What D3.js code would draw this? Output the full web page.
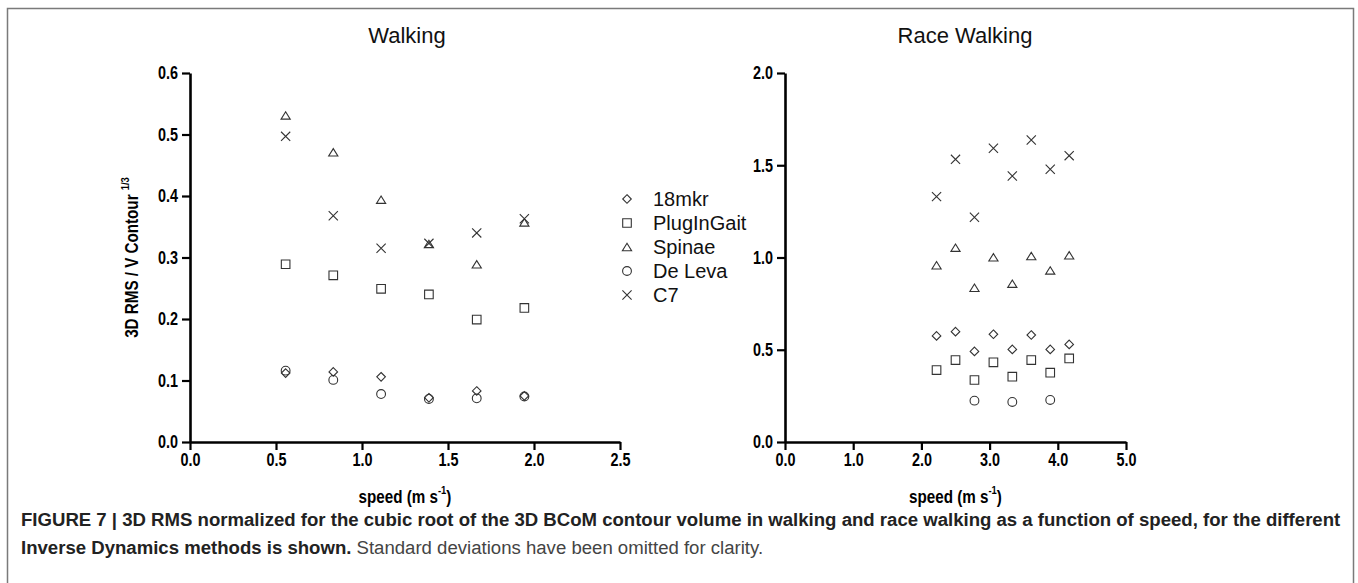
<!DOCTYPE html>
<html>
<head>
<meta charset="utf-8">
<script src="https://cdn.jsdelivr.net/npm/d3@7"></script>
<style>
  body { margin: 0; background: #fff; }
  svg { display: block; }
</style>
</head>
<body>
<svg id="chart"></svg>
<script>
// DATA
var methods = ["18mkr", "PlugInGait", "Spinae", "De Leva", "C7"];

// walking: 2..7 km/h
var walkSpeed      = [0.556, 0.833, 1.111, 1.389, 1.667, 1.944];
var walk18mkr      = [0.112, 0.114, 0.106, 0.072, 0.083, 0.075];
var walkPlugInGait = [0.289, 0.271, 0.249, 0.240, 0.199, 0.218];
var walkSpinae     = [0.531, 0.471, 0.394, 0.322, 0.289, 0.357];
var walkDeLeva     = [0.116, 0.101, 0.078, 0.070, 0.071, 0.074];
var walkC7         = [0.497, 0.368, 0.315, 0.323, 0.340, 0.363];

// race walking: 8..15 km/h
var raceSpeed      = [2.222, 2.500, 2.778, 3.056, 3.333, 3.611, 3.889, 4.167];
var race18mkr      = [0.575, 0.598, 0.491, 0.584, 0.502, 0.580, 0.502, 0.529];
var racePlugInGait = [0.390, 0.444, 0.336, 0.432, 0.354, 0.444, 0.376, 0.453];
var raceSpinae     = [0.958, 1.053, 0.836, 1.001, 0.858, 1.008, 0.930, 1.012];
var raceDeLeva     = [null, null, 0.224, null, 0.217, null, 0.228, null];
var raceC7         = [1.330, 1.532, 1.218, 1.592, 1.442, 1.637, 1.478, 1.552];

var walkYTicks = [0, 0.1, 0.2, 0.3, 0.4, 0.5, 0.6];
var walkXTicks = [0, 0.5, 1.0, 1.5, 2.0, 2.5];
var raceYTicks = [0, 0.5, 1.0, 1.5, 2.0];
var raceXTicks = [0, 1, 2, 3, 4, 5];

// SIZES
var width = 1358;
var height = 583;

var plotTop = 73;
var plotBottom = 442;

var walkLeft = 190, walkRight = 620;
var raceLeft = 785, raceRight = 1126;

// no narrow font installed -> squeeze Liberation Sans bold
var tickFont = '"Liberation Sans", Arial, Helvetica, sans-serif';
var plainFont = '"Liberation Sans", Arial, Helvetica, sans-serif';
var narrow = 0.8;
var markColor = "#333";

// custom symbols (size = half width in px)
var symDiamond = { draw: function(c, s) { c.moveTo(0, -s); c.lineTo(s, 0); c.lineTo(0, s); c.lineTo(-s, 0); c.closePath(); } };
var symSquare  = { draw: function(c, s) { c.rect(-s, -s, 2 * s, 2 * s); } };
var symTri     = { draw: function(c, s) { var h = s * 0.8; c.moveTo(0, -h); c.lineTo(s, h); c.lineTo(-s, h); c.closePath(); } };
var symCircle  = { draw: function(c, s) { c.moveTo(s, 0); c.arc(0, 0, s, 0, 2 * Math.PI); } };
var symCross   = { draw: function(c, s) { c.moveTo(-s, -s); c.lineTo(s, s); c.moveTo(s, -s); c.lineTo(-s, s); } };

var symbolTypes = [symDiamond, symSquare, symTri, symCircle, symCross];
var symbolSizes = [4.3, 4.3, 4.6, 4.4, 4.6];

var svg = d3.select("#chart").attr("width", width).attr("height", height);

// squeeze a single text horizontally (fake condensed face)
function condense(sel, f) {
  sel.each(function() {
    var len = this.getComputedTextLength();
    d3.select(this).attr("textLength", len * f).attr("lengthAdjust", "spacingAndGlyphs");
  });
}

// label with a superscript, squeezed through a scaled group
function supLabel(parent, transform, main, sup, size) {
  var t = parent.append("g")
    .attr("transform", transform + " scale(" + narrow + ",1)")
    .append("text")
    .attr("text-anchor", "middle")
    .attr("font-family", tickFont)
    .attr("font-weight", "bold")
    .attr("font-size", size)
    .attr("fill", "#000");
  t.append("tspan").text(main);
  t.append("tspan").attr("dy", -size * 0.45).attr("font-size", size * 0.62).text(sup[0]);
  if (sup[1]) t.append("tspan").attr("dy", size * 0.45).text(sup[1]);
  return t;
}

// frame around figure
svg.append("rect")
  .attr("x", 7.5).attr("y", 8.5)
  .attr("width", 1346).attr("height", 620)
  .attr("fill", "none")
  .attr("stroke", "#7a7a7a")
  .attr("stroke-width", 1.5);

function drawPanel(opt) {
  var x = d3.scaleLinear().domain(opt.xDomain).range([opt.left, opt.right]);
  var y = d3.scaleLinear().domain(opt.yDomain).range([plotBottom, plotTop]);
  var g = svg.append("g");

  var yAxis = d3.axisLeft(y).tickValues(opt.yTicks).tickFormat(d3.format(".1f"))
    .tickSize(8).tickSizeOuter(0).tickPadding(4);
  var xAxis = d3.axisBottom(x).tickValues(opt.xTicks).tickFormat(d3.format(".1f"))
    .tickSize(8).tickSizeOuter(0).tickPadding(3);

  var gy = g.append("g").attr("transform", "translate(" + opt.left + ",0)").call(yAxis);
  var gx = g.append("g").attr("transform", "translate(0," + plotBottom + ")").call(xAxis);

  [gx, gy].forEach(function(a) {
    a.select(".domain").attr("stroke", "#000").attr("stroke-width", 2.6);
    a.selectAll(".tick line").attr("stroke", "#000").attr("stroke-width", 2.2);
    a.selectAll(".tick text")
      .attr("font-family", tickFont)
      .attr("font-weight", "bold")
      .attr("font-size", 18)
      .attr("fill", "#000")
      .call(condense, narrow);
  });

  // title
  g.append("text")
    .attr("x", opt.titleX)
    .attr("y", 43)
    .attr("text-anchor", "middle")
    .attr("font-family", plainFont)
    .attr("font-size", 22)
    .attr("fill", "#111")
    .text(opt.title);

  // x label
  supLabel(g, "translate(" + ((opt.left + opt.right) / 2) + ",503)", "speed (m s", ["-1", ")"], 19);

  // series
  opt.series.forEach(function(vals, k) {
    var pts = vals.map(function(v, i) { return { x: opt.speed[i], y: v }; })
                  .filter(function(d) { return d.y != null; });
    g.selectAll(null)
      .data(pts)
      .enter()
      .append("path")
      .attr("d", d3.symbol().type(symbolTypes[k]).size(symbolSizes[k]))
      .attr("transform", function(d) { return "translate(" + x(d.x) + "," + y(d.y) + ")"; })
      .attr("fill", "none")
      .attr("stroke", markColor)
      .attr("stroke-width", 1.1);
  });
  return { x: x, y: y };
}

drawPanel({
  title: "Walking", titleX: 407,
  left: walkLeft, right: walkRight,
  xDomain: [0, 2.5], yDomain: [0, 0.6],
  xTicks: walkXTicks, yTicks: walkYTicks,
  speed: walkSpeed,
  series: [walk18mkr, walkPlugInGait, walkSpinae, walkDeLeva, walkC7]
});

drawPanel({
  title: "Race Walking", titleX: 965,
  left: raceLeft, right: raceRight,
  xDomain: [0, 5], yDomain: [0, 2],
  xTicks: raceXTicks, yTicks: raceYTicks,
  speed: raceSpeed,
  series: [race18mkr, racePlugInGait, raceSpinae, raceDeLeva, raceC7]
});

// y label (only on the walking panel)
supLabel(svg, "translate(138," + ((plotTop + plotBottom) / 2) + ") rotate(-90)", "3D RMS / V Contour ", ["1/3"], 19);

// legend
var legend = svg.append("g").attr("transform", "translate(627,199)");
methods.forEach(function(m, i) {
  var row = legend.append("g").attr("transform", "translate(0," + (i * 24) + ")");
  row.append("path")
    .attr("d", d3.symbol().type(symbolTypes[i]).size(symbolSizes[i]))
    .attr("fill", "none")
    .attr("stroke", markColor)
    .attr("stroke-width", 1.1);
  row.append("text")
    .attr("x", 26)
    .attr("y", 7)
    .attr("font-family", plainFont)
    .attr("font-size", 20)
    .attr("fill", "#111")
    .text(m);
});

// caption
var capLine1 = "FIGURE 7 | 3D RMS normalized for the cubic root of the 3D BCoM contour volume in walking and race walking as a function of speed, for the different";
var cap1 = svg.append("text")
  .attr("x", 21).attr("y", 526)
  .attr("font-family", plainFont)
  .attr("font-weight", "bold")
  .attr("font-size", 16)
  .attr("fill", "#222")
  .text(capLine1);
// fit to the width of the figure box
var w1 = cap1.node().getComputedTextLength();
var capSize = 16 * 1320 / w1;
cap1.attr("font-size", capSize);

var cap2 = svg.append("text")
  .attr("x", 21).attr("y", 554)
  .attr("font-family", plainFont)
  .attr("font-size", capSize)
  .attr("fill", "#222");
cap2.append("tspan").attr("font-weight", "bold").text("Inverse Dynamics methods is shown.");
cap2.append("tspan").attr("fill", "#444").text(" Standard deviations have been omitted for clarity.");
</script>
</body>
</html>
